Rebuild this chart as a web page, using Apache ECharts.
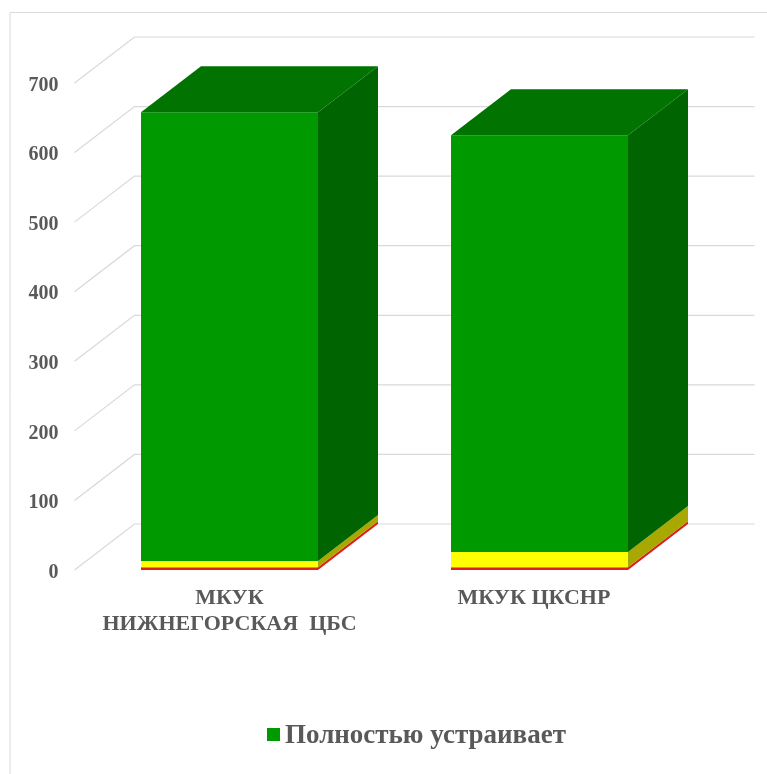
<!DOCTYPE html>
<html>
<head>
<meta charset="utf-8">
<title>Chart</title>
<script src="https://cdn.jsdelivr.net/npm/echarts@6/dist/echarts.min.js"></script>
<style>
  html, body { margin: 0; padding: 0; background: #fff; }
  #main { width: 767px; height: 774px; }
</style>
</head>
<body>
<div id="main"></div>
<script>
var categories = ['МКУК\nНИЖНЕГОРСКАЯ  ЦБС', 'МКУК ЦКСНР  '];
var yTicks = [0, 100, 200, 300, 400, 500, 600, 700];
var redValues = [4, 4];
var yellowValues = [9, 22];
var greenValues = [645, 599];

var DX = 60, DY = -46;
var BAR_RATIO = 0.571;
var ink = '#595959', rule = '#d9d9d9';
var font = '"Liberation Serif", serif';

function shade(points, fill) {
  return { type: 'polygon', shape: { points: points }, style: { fill: fill } };
}

// one stacked block, three faces
function blockRender(front, side, top) {
  return function(params, api) {
    var base = api.coord([api.value(0), api.value(1)]);
    var head = api.coord([api.value(0), api.value(2)]);
    var half = api.size([1, 0])[0] * BAR_RATIO / 2;
    var l = base[0] - half, r = base[0] + half;
    var faces = [
      shade([[l, head[1]], [r, head[1]], [r, base[1]], [l, base[1]]], front),
      shade([[r, head[1]], [r + DX, head[1] + DY], [r + DX, base[1] + DY], [r, base[1]]], side)
    ];
    if (top) {
      faces.push(shade([[l, head[1]], [l + DX, head[1] + DY], [r + DX, head[1] + DY], [r, head[1]]], top));
    }
    return { type: 'group', children: faces };
  };
}

function stackData(values, under) {
  return values.map(function(v, i) {
    var start = under.reduce(function(sum, arr) { return sum + arr[i]; }, 0);
    return [i, start, start + v];
  });
}

// wall lines: diagonal floor part + horizontal back part
function renderWall(params, api) {
  var y = api.coord([0, api.value(1)])[1];
  var x = params.coordSys.x, w = params.coordSys.width;
  return {
    type: 'polyline',
    shape: { points: [[x, y], [x + DX, y + DY], [x + w + DX, y + DY]] },
    style: { stroke: rule, lineWidth: 1.2, fill: null }
  };
}

var chart = echarts.init(document.getElementById('main'), null, { renderer: 'canvas' });
chart.setOption({
  animation: false,
  backgroundColor: '#fff',
  graphic: [{
    type: 'polyline',
    shape: { points: [[10, 774], [10, 12.5], [767, 12.5]] },
    style: { stroke: rule, lineWidth: 1, fill: null },
    silent: true
  }],
  grid: { left: 74.5, top: 83, width: 620, height: 487 },
  legend: {
    left: 262, top: 718,
    data: [{ name: 'Полностью устраивает', icon: 'rect' }],
    itemWidth: 13, itemHeight: 13, itemGap: 0,
    formatter: '{a|{name}}',
    textStyle: {
      rich: { a: { color: ink, fontFamily: font, fontWeight: 'bold', fontSize: 27, padding: [4, 0, 0, 0] } }
    }
  },
  xAxis: {
    type: 'category', data: categories,
    axisLine: { show: false }, axisTick: { show: false },
    axisLabel: { color: ink, fontFamily: font, fontWeight: 'bold', fontSize: 22, lineHeight: 26, margin: 15, interval: 0 }
  },
  yAxis: {
    type: 'value', min: 0, max: 700, interval: 100,
    axisLine: { show: false }, axisTick: { show: false }, splitLine: { show: false },
    axisLabel: {
      margin: 16, formatter: '{v|{value}}',
      rich: { v: { color: ink, fontFamily: font, fontWeight: 'bold', fontSize: 20, padding: [5, 0, 0, 0] } }
    }
  },
  series: [
    {
      type: 'custom', name: 'Сетка', renderItem: renderWall, z: 1, silent: true,
      data: yTicks.map(function(t) { return [0, t]; }), encode: { x: 0, y: 1 }
    },
    {
      type: 'custom', name: 'Не устраивает', z: 2, silent: true,
      renderItem: blockRender('#e3211c', '#d9201a', null),
      itemStyle: { color: '#e3211c' },
      data: stackData(redValues, []), encode: { x: 0, y: [1, 2] }
    },
    {
      type: 'custom', name: 'Частично устраивает', z: 3, silent: true,
      renderItem: blockRender('#ffff00', '#a8a800', null),
      itemStyle: { color: '#ffff00' },
      data: stackData(yellowValues, [redValues]), encode: { x: 0, y: [1, 2] }
    },
    {
      type: 'custom', name: 'Полностью устраивает', z: 4, silent: true,
      renderItem: blockRender('#009900', '#006500', '#007300'),
      itemStyle: { color: '#009900' },
      data: stackData(greenValues, [redValues, yellowValues]), encode: { x: 0, y: [1, 2] }
    }
  ]
});
window.addEventListener('resize', function() { chart.resize(); });
</script>
</body>
</html>
